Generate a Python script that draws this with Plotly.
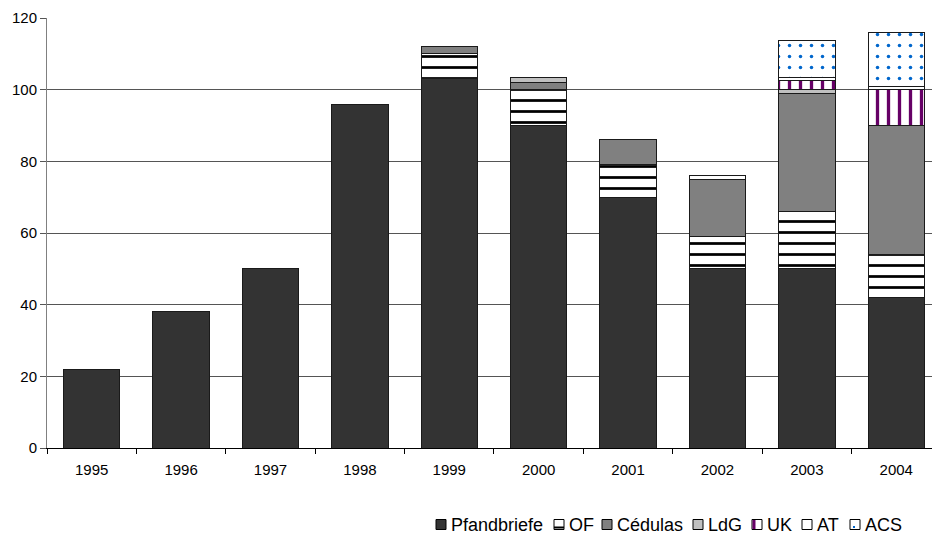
import plotly.graph_objects as go

# Annual issuance by covered-bond type (stacked)
years = ["1995", "1996", "1997", "1998", "1999", "2000", "2001", "2002", "2003", "2004"]

pfandbriefe = [22, 38, 50, 96, 103, 90, 70, 50, 50, 42]
of_bonds    = [0, 0, 0, 0, 7, 10, 9, 9, 16, 12]
cedulas     = [0, 0, 0, 0, 2, 2, 7, 16, 33, 36]
ldg         = [0, 0, 0, 0, 0, 1.5, 0, 0, 1, 0]
uk          = [0, 0, 0, 0, 0, 0, 0, 0, 2.5, 10]
at          = [0, 0, 0, 0, 0, 0, 0, 1, 1, 1]
acs         = [0, 0, 0, 0, 0, 0, 0, 0, 10.3, 15]

series_names = ["Pfandbriefe", "OF", "Cédulas", "LdG", "UK", "AT", "ACS"]
series_values = [pfandbriefe, of_bonds, cedulas, ldg, uk, at, acs]

FONT = "Liberation Sans, Arial, sans-serif"
W, H = 932, 536
ML, MR, MT, MB = 47, 0, 18, 88
PW, PH = W - ML - MR, H - MT - MB

outline = dict(color="#1a1a1a", width=1)


def hatch(shape, color, size, solidity):
    return dict(shape=shape, fillmode="overlay", fgcolor=color, fgopacity=1,
                bgcolor="white", size=size, solidity=solidity)


markers = [
    dict(color="#333333", line=outline),
    dict(color="white", line=outline, pattern=hatch("-", "black", 11, 0.25)),
    dict(color="#808080", line=outline),
    dict(color="#C0C0C0", line=outline),
    dict(color="white", line=outline, pattern=hatch("|", "#660066", 11, 0.3)),
    dict(color="white", line=outline),
    dict(color="white", line=outline, pattern=hatch(".", "#0066CC", 11, 0.08)),
]

fig = go.Figure()
for name, vals, marker in zip(series_names, series_values, markers):
    fig.add_trace(go.Bar(x=years, y=vals, name=name, marker=marker, showlegend=False))

# ---- legend row (small swatches + labels) along the bottom right ----
def px_x(px):
    return (px - ML) / PW


def px_y(py):
    return (H - MB - py) / PH


legend_left = [436, 554, 602, 693, 752, 802, 850]
swatch_fill = ["#333333", "white", "#808080", "#C0C0C0", "white", "white", "white"]
sw_top, sw_bot = 519.5, 529.5
shapes = []
annotations = []
for name, left, fill in zip(series_names, legend_left, swatch_fill):
    shapes.append(dict(type="rect", xref="paper", yref="paper",
                       x0=px_x(left), x1=px_x(left + 10), y0=px_y(sw_bot), y1=px_y(sw_top),
                       fillcolor=fill, line=dict(color="black", width=1), layer="above"))
    annotations.append(dict(text=name, xref="paper", yref="paper", showarrow=False,
                            x=px_x(left + 14), y=px_y(524.5), xanchor="left", yanchor="middle",
                            borderpad=0, font=dict(family=FONT, size=18, color="black")))

# swatch details: OF underline, UK stripe, ACS dot
of_l, uk_l, acs_l = legend_left[1], legend_left[4], legend_left[6]
shapes.append(dict(type="rect", xref="paper", yref="paper",
                   x0=px_x(of_l), x1=px_x(of_l + 10), y0=px_y(528.5), y1=px_y(526.5),
                   fillcolor="black", line=dict(width=0), layer="above"))
shapes.append(dict(type="rect", xref="paper", yref="paper",
                   x0=px_x(uk_l + 0.5), x1=px_x(uk_l + 3.5), y0=px_y(529), y1=px_y(520),
                   fillcolor="#660066", line=dict(width=0), layer="above"))
shapes.append(dict(type="rect", xref="paper", yref="paper",
                   x0=px_x(acs_l + 3), x1=px_x(acs_l + 5), y0=px_y(528), y1=px_y(526),
                   fillcolor="#0066CC", line=dict(width=0), layer="above"))

fig.update_layout(
    barmode="stack",
    bargap=0.37,
    width=W,
    height=H,
    margin=dict(l=ML, r=MR, t=MT, b=MB, autoexpand=False),
    paper_bgcolor="white",
    plot_bgcolor="white",
    font=dict(family=FONT, size=15, color="black"),
    showlegend=False,
    shapes=shapes,
    annotations=annotations,
)

fig.update_xaxes(
    type="category",
    range=[-0.5, 9.4],
    tickson="boundaries",
    ticks="outside",
    ticklen=5,
    tickcolor="black",
    showline=True,
    linecolor="black",
    linewidth=1,
    showgrid=False,
    ticklabelstandoff=8,
    tickfont=dict(family=FONT, size=15, color="black"),
)

fig.update_yaxes(
    range=[0, 120],
    dtick=20,
    ticks="outside",
    ticklen=6,
    tickcolor="#555555",
    showline=True,
    linecolor="#808080",
    linewidth=1,
    showgrid=True,
    gridcolor="#555555",
    gridwidth=1,
    zeroline=False,
    tickfont=dict(family=FONT, size=15, color="black"),
)

fig.write_html("out.html")
